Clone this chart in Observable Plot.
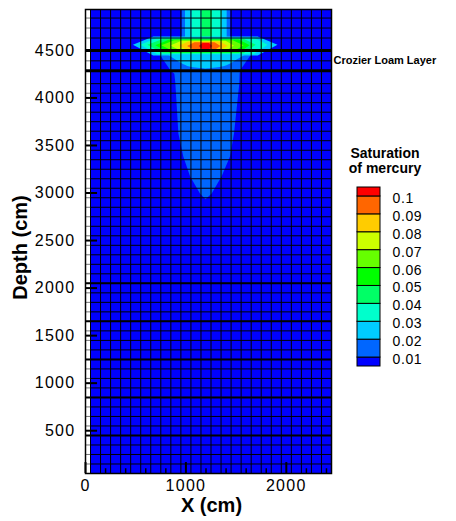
<!DOCTYPE html>
<html><head><meta charset="utf-8">
<script src="https://cdn.jsdelivr.net/npm/d3@7"></script>
<script src="https://cdn.jsdelivr.net/npm/@observablehq/plot@0.6"></script>
<style>
body{margin:0;background:#fff;font-family:"Liberation Sans",Arial,sans-serif;}
#wrap{position:relative;width:456px;height:521px;overflow:hidden;}
#main{position:absolute;left:0;top:0;}
#legend{position:absolute;left:340px;top:140px;}
#legtitle{position:absolute;left:335px;top:146px;width:100px;text-align:center;font-weight:bold;font-size:14px;line-height:15px;color:#000;}
g[aria-label$="tick label"] text{letter-spacing:1.3px;}
#legend text{letter-spacing:0.6px;}
</style></head><body>
<div id="wrap"><div id="main"></div><div id="legend"></div><div id="legtitle">Saturation<br>of mercury</div></div>
<script>
// ---- contour levels / legend ----
const levels = [0.01, 0.02, 0.03, 0.04, 0.05, 0.06, 0.07, 0.08, 0.09, 0.1];
const bandColors = ["#0000FF","#0066FF","#00CCFF","#00FFCC","#00FF66","#00FF00","#66FF00","#CCFF00","#FFCC00","#FF6600","#FF0000"];

// ---- axes ----
const xDomain = [0, 2450];
const yDomain = [50, 4930];
const xTicks = [0, 1000, 2000];
const xMinorTicks = [200, 400, 600, 800, 1200, 1400, 1600, 1800, 2200, 2400];
const yTicks = [500, 1000, 1500, 2000, 2500, 3000, 3500, 4000, 4500];

// ---- mesh ----
const meshExtentX = [50, 2450];
const meshExtentY = [50, 4930];
const meshCols = d3.range(50, 2451, 100);
const meshRowsLower = d3.range(150, 4151, 100);
const meshRowsUpper = [4390, 4630, 4735, 4840];
const meshRowsDouble = [450, 850, 1250, 1650, 2050];
const loamBounds = [4285, 4500];
const loamLabel = "Crozier Loam Layer";

// ---- plume below the loam layer (0.01-0.02) ----
const plumeDepth = [4520, 4446, 4285, 4250, 4150, 3620, 3380, 3170, 2990, 2930];
const plumeLeft  = [680, 747, 850, 890, 900, 930, 979, 1046, 1145, 1200];
const plumeRight = [1720, 1650, 1545, 1540, 1537, 1484, 1444, 1361, 1262, 1200];

// ---- bowl under the lens (0.02-0.03) ----
const bowlDepth = [4500, 4450, 4400, 4350, 4320, 4305];
const bowlLeft  = [760, 830, 900, 980, 1060, 1200];
const bowlRight = [1660, 1590, 1510, 1430, 1340, 1200];

// ---- source column at the top ----
const columnLevels = [0.015, 0.025, 0.035, 0.045];
const columnLeft  = [963, 996, 1063, 1162];
const columnRight = [1444, 1411, 1361, 1262];
const columnDepth = [4930, 4560];

// ---- lens spreading on top of the loam layer ----
const lensLevels = [0.025, 0.035, 0.045, 0.055, 0.065, 0.075, 0.085, 0.095, 0.105];
const lensLeftTip       = [477, 550, 620, 700, 760, 850, 930, 1017, 1133];
const lensLeftShoulder  = [680, 720, 780, 840, 890, 960, 1030, 1090, 1170];
const lensRightShoulder = [1720, 1680, 1580, 1530, 1470, 1400, 1340, 1290, 1235];
const lensRightTip      = [1917, 1817, 1700, 1640, 1580, 1483, 1420, 1350, 1267];
const lensTipDepth      = [4555, 4555, 4553, 4550, 4548, 4545, 4543, 4540, 4540];
const lensTop           = [4640, 4628, 4618, 4610, 4602, 4595, 4588, 4580, 4572];
const lensBottom        = [4440, 4455, 4465, 4472, 4480, 4487, 4494, 4500, 4506];

// ---- tables built from the arrays ----
const background = [{x1: meshExtentX[0], x2: meshExtentX[1], y1: meshExtentY[0], y2: meshExtentY[1], level: 0.005}];
const plume = plumeDepth.map((d, i) => ({y: d, x1: plumeLeft[i], x2: plumeRight[i], level: 0.015}));
const bowl = bowlDepth.map((d, i) => ({y: d, x1: bowlLeft[i], x2: bowlRight[i], level: 0.025}));
const column = columnLevels.flatMap((lv, i) => columnDepth.map(d => ({id: i, y: d, x1: columnLeft[i], x2: columnRight[i], level: lv})));
const lens = lensLevels.flatMap((lv, i) => [
  {id: i, level: lv, x: lensLeftTip[i], y1: lensTipDepth[i], y2: lensTipDepth[i]},
  {id: i, level: lv, x: lensLeftShoulder[i], y1: lensBottom[i], y2: lensTop[i]},
  {id: i, level: lv, x: lensRightShoulder[i], y1: lensBottom[i], y2: lensTop[i]},
  {id: i, level: lv, x: lensRightTip[i], y1: lensTipDepth[i], y2: lensTipDepth[i]}
]);
const meshRows = [...meshRowsLower, ...meshRowsUpper];

const colorScale = {type: "threshold", domain: levels, range: bandColors};
const font = "Liberation Sans, Arial, sans-serif";

const chart = Plot.plot({
  width: 456, height: 521,
  marginLeft: 85, marginRight: 125, marginTop: 9, marginBottom: 48,
  x: {domain: xDomain},
  y: {domain: yDomain},
  color: colorScale,
  style: {fontFamily: font, background: "white", color: "black"},
  marks: [
    Plot.rect(background, {x1: "x1", x2: "x2", y1: "y1", y2: "y2", fill: "level"}),
    Plot.areaX(plume, {y: "y", x1: "x1", x2: "x2", fill: "level"}),
    Plot.areaX(bowl, {y: "y", x1: "x1", x2: "x2", fill: "level", curve: "catmull-rom"}),
    Plot.areaX(column, {y: "y", x1: "x1", x2: "x2", fill: "level", z: "id"}),
    Plot.areaY(lens, {x: "x", y1: "y1", y2: "y2", fill: "level", z: "id"}),
    // mesh
    Plot.ruleX(meshCols, {y1: meshExtentY[0], y2: meshExtentY[1], stroke: "black", strokeWidth: 1}),
    Plot.ruleY(meshRows, {x1: meshExtentX[0], x2: meshExtentX[1], stroke: "black", strokeWidth: 1}),
    Plot.ruleY(meshRows, {x1: 0, x2: meshExtentX[0], stroke: "#777", strokeWidth: 1}),
    Plot.ruleY(meshRowsDouble, {x1: 0, x2: meshExtentX[1], stroke: "black", strokeWidth: 2}),
    Plot.ruleY(loamBounds, {x1: 0, x2: meshExtentX[1], stroke: "black", strokeWidth: 3}),
    Plot.frame({stroke: "black", strokeWidth: 1.5}),
    // axes
    Plot.ruleY(yTicks, {x1: 0, x2: 120, stroke: "black", strokeWidth: 2}),
    Plot.ruleX(xTicks, {y1: yDomain[0], y2: 165, stroke: "black", strokeWidth: 2}),
    Plot.ruleX(xMinorTicks, {y1: yDomain[0], y2: 100, stroke: "black", strokeWidth: 1.5}),
    Plot.axisY(yTicks, {tickSize: 0, tickPadding: 10, fontSize: 16, label: null, tickFormat: d => String(d)}),
    Plot.axisX(xTicks, {tickSize: 0, tickPadding: 6, fontSize: 16, label: null, tickFormat: d => String(d)}),
    Plot.text(["Depth (cm)"], {frameAnchor: "left", textAnchor: "middle", lineAnchor: "middle", rotate: -90, dx: -65, dy: 6, fontSize: 20, fontWeight: "bold", fill: "black"}),
    Plot.text(["X (cm)"], {frameAnchor: "bottom", textAnchor: "middle", lineAnchor: "middle", dy: 32, dx: 3, fontSize: 20, fontWeight: "bold", fill: "black"}),
    Plot.text([loamLabel], {y: (loamBounds[0] + loamBounds[1]) / 2, frameAnchor: "right", textAnchor: "start", dx: 2, fontSize: 11, fontWeight: "bold", fill: "black"})
  ]
});
document.getElementById("main").appendChild(chart);

// ---- legend ----
const edges = [0.005, ...levels, 0.105];
const bands = edges.slice(0, -1).map((lo, i) => ({lo, hi: edges[i + 1], mid: (lo + edges[i + 1]) / 2}));
const legend = Plot.plot({
  width: 116, height: 240,
  marginLeft: 17, marginRight: 76, marginTop: 47, marginBottom: 14,
  x: {domain: [0, 1], axis: null},
  y: {domain: [0.005, 0.105], axis: null},
  color: colorScale,
  style: {fontFamily: font, background: "transparent", color: "black", overflow: "visible"},
  marks: [
    Plot.rect(bands, {x1: 0, x2: 1, y1: "lo", y2: "hi", fill: "mid", stroke: "black", strokeWidth: 1}),
    Plot.text(levels, {x: 1, y: d => d, dx: 12, dy: 2, textAnchor: "start", text: d => String(d), fontSize: 14, fill: "black"})
  ]
});
document.getElementById("legend").appendChild(legend);
</script>
</body></html>
